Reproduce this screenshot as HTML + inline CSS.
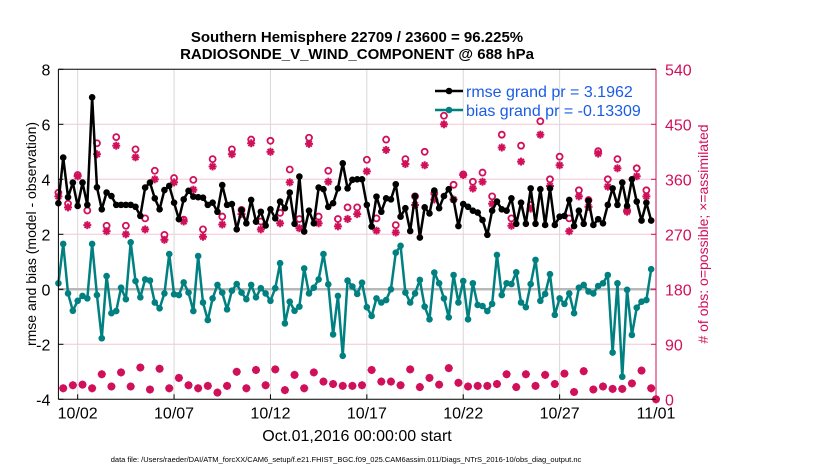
<!DOCTYPE html>
<html><head><meta charset="utf-8"><style>
body{margin:0;background:#fff}
svg{display:block;font-family:"Liberation Sans",Arial,sans-serif}
</style></head><body>
<svg id="chart" width="830" height="470" viewBox="0 0 830 470">
<text x="357" y="42" text-anchor="middle" font-size="15" font-weight="bold">Southern Hemisphere 22709 / 23600 = 96.225%</text>
<text x="357" y="59" text-anchor="middle" font-size="15" font-weight="bold">RADIOSONDE_V_WIND_COMPONENT @ 688 hPa</text>
<g id="grid"></g>
<g id="marks"></g>
<g id="axes"></g>
<text transform="translate(36,234) rotate(-90)" text-anchor="middle" font-size="14">rmse and bias (model - observation)</text>
<text transform="translate(708,234) rotate(-90)" text-anchor="middle" font-size="14" fill="#d0105a"># of obs: o=possible; ×=assimilated</text>
<text x="357" y="441" text-anchor="middle" font-size="16">Oct.01,2016 00:00:00 start</text>
<text x="346" y="462" text-anchor="middle" font-size="7.5">data file: /Users/raeder/DAI/ATM_forcXX/CAM6_setup/f.e21.FHIST_BGC.f09_025.CAM6assim.011/Diags_NTrS_2016-10/obs_diag_output.nc</text>
<g>
<line x1="435" y1="91" x2="463" y2="91" stroke="#000" stroke-width="2.5"/>
<circle cx="449" cy="91" r="3.3" fill="#000"/>
<text x="466" y="97" font-size="16" fill="#1a5ce6">rmse grand pr = 3.1962</text>
<line x1="435" y1="110" x2="463" y2="110" stroke="#008080" stroke-width="2.5"/>
<circle cx="449" cy="110" r="3.3" fill="#008080"/>
<text x="466" y="116" font-size="16" fill="#1a5ce6">bias grand pr = -0.13309</text>
</g>
</svg>
<script>
const rmse=[3.13,4.79,3.35,3.88,3.03,3.88,3.07,6.98,3.71,2.91,3.52,3.39,3.07,3.07,3.07,3.07,3.0,2.67,3.70,3.88,3.31,2.91,3.61,3.76,3.15,2.55,3.27,3.58,3.37,3.35,3.33,3.07,3.15,2.82,3.79,3.07,3.10,2.18,2.88,2.40,3.25,2.46,2.82,2.32,2.91,2.58,3.19,2.95,3.52,2.38,4.10,2.10,2.86,2.40,3.70,3.64,3.0,3.13,3.67,4.58,3.67,
3.98,4.0,4.0,3.07,2.28,3.37,2.82,3.31,3.27,3.82,2.64,2.95,2.12,3.39,1.88,2.98,2.76,3.59,2.95,3.39,3.64,3.25,2.30,3.10,3.0,2.86,2.79,2.52,1.98,2.86,3.19,2.91,2.86,3.31,2.38,3.15,2.38,3.67,2.38,3.64,2.34,3.67,2.34,2.64,2.67,3.25,2.30,2.86,2.38,3.22,2.34,2.55,2.40,3.07,3.67,3.07,3.88,3.03,4.0,3.19,2.50,3.15,2.50];
const bias=[0.22,1.65,-0.15,-0.78,-0.42,-0.24,-0.33,1.65,-0.21,-1.78,0.48,-0.87,-0.79,0.06,-0.36,1.71,0.30,-0.29,0.36,0.32,-0.48,-0.69,-0.15,1.28,-0.18,-0.21,0.25,-0.12,-0.79,1.21,-0.48,-1.12,-0.33,0.16,-0.12,-0.73,-0.05,0.19,-0.12,-0.36,0.16,-0.29,0.04,-0.15,-0.42,0.04,0.95,-1.24,-0.45,-0.78,-0.63,0.76,-0.15,0.06,0.36,1.28,0.18,-1.64,-0.24,-2.42,0.32,
0.1,-0.17,0.24,-0.65,-0.97,-0.33,-0.48,-0.39,0,1.33,1.58,-0.12,-0.48,-0.15,0.34,-0.63,-1.09,0.61,0.22,-0.33,-1.02,0.52,-0.48,0.30,-1.09,0.22,-0.57,-0.61,-0.79,-0.53,1.25,-0.21,0.22,0.19,0.62,-0.48,-0.65,0.19,1.07,-0.42,-0.17,0.55,-0.93,-0.33,-0.53,-0.15,-0.87,0.06,0.16,-0.08,-0.15,0.12,0.22,0.52,-2.30,0.22,-3.18,-0.02,-1.66,-0.67,-0.45,-0.39,0.73];
// 00Z/12Z observation counts (even steps)
const possHigh=[338,320,367,309,419,284,429,284,409,296,374,269,362,294,359,278,393,299,409,310,425,291,423,305,376,295,428,299,374,295,314,
314,392,296,425,285,393,332,405,337,464,351,368,356,371,332,433,296,415,318,455,360,397,296,342,326,406,360,393,309,378,342];
const usedHigh=[332,314,365,285,401,275,415,270,396,278,360,261,355,291,343,266,381,286,401,303,419,278,405,288,355,280,418,288,356,283,295,
303,373,276,408,273,385,318,383,327,450,327,367,345,356,320,412,284,389,312,433,349,383,275,332,315,402,348,378,307,365,332];
// 06Z/18Z observation counts (odd steps)
const usedLow=[18,23,24,18,41,21,44,21,52,16,50,18,35,23,18,22,11,22,45,18,48,23,49,15,40,18,44,29,25,22,
22,23,48,29,29,23,49,20,35,24,51,27,21,22,22,25,41,20,41,22,40,25,42,12,46,16,21,17,17,26,47,18];
const xTicks=["10/02","10/07","10/12","10/17","10/22","10/27","11/01"];
const xTickDays=[1,6,11,16,21,26,31];
const yTicks=[-4,-2,0,2,4,6,8];
const rTicks=[0,90,180,270,360,450,540];

const NS="http://www.w3.org/2000/svg";
const L=58.4,R=656,T=69.3,B=399.3,DAYPX=(R-L)/31;
const xs=i=>L+i*DAYPX/4;
const xd=d=>L+d*DAYPX;
const yl=v=>B-(v+4)/12*(B-T);
const yr=v=>B-v/540*(B-T);
const PINK="#d0105a";
function mk(tag,attrs,parent){const e=document.createElementNS(NS,tag);for(const k in attrs)e.setAttribute(k,attrs[k]);parent.appendChild(e);return e;}
const grid=document.getElementById('grid'),marks=document.getElementById('marks'),axes=document.getElementById('axes');

yTicks.forEach((v,i)=>{
  if(v!==-4&&v!==8&&v!==0){const g=mk('line',{x1:L,x2:R,y1:yl(v),y2:yl(v),stroke:'#f4c6d6','stroke-width':1},grid);
  
  }
  const t=mk('text',{x:L-8,y:yl(v)+6,'text-anchor':'end','font-size':16},axes);t.textContent=v;
  
  
  mk('line',{x1:L,x2:L+5,y1:yl(v),y2:yl(v),stroke:'#000'},axes);
});
rTicks.forEach(v=>{
  const t=mk('text',{x:R+9,y:yr(v)+6,'font-size':16,fill:PINK},axes);t.textContent=v;
  
  
  mk('line',{x1:R-5,x2:R,y1:yr(v),y2:yr(v),stroke:PINK},axes);
});
xTicks.forEach((lab,i)=>{
  const x=xd(xTickDays[i]);
  const g=mk('line',{x1:x,x2:x,y1:T,y2:B,stroke:'#d8d8d8','stroke-width':1},grid);
  
  
  mk('line',{x1:x,x2:x,y1:B,y2:B-5,stroke:'#000'},axes);
  const t=mk('text',{x:x,y:B+19,'text-anchor':'middle','font-size':16},axes);t.textContent=lab;
  
  
});
const z=mk('line',{x1:L,x2:R,y1:yl(0),y2:yl(0),stroke:'#b8b8b8','stroke-width':2.5},grid);


mk('line',{x1:L,x2:R,y1:T,y2:T,stroke:'#000'},axes);
mk('line',{x1:L,x2:R,y1:B,y2:B,stroke:'#000'},axes);
mk('line',{x1:L,x2:L,y1:T,y2:B,stroke:'#000'},axes);
mk('line',{x1:R,x2:R,y1:T,y2:B,stroke:PINK},axes);

function star(x,y){
  const g=mk('g',{stroke:PINK,'stroke-width':2},marks);
  
  
  const s=4;
  mk('line',{x1:x-s,x2:x+s,y1:y,y2:y},g);mk('line',{x1:x,x2:x,y1:y-s,y2:y+s},g);
  mk('line',{x1:x-s*.7,x2:x+s*.7,y1:y-s*.7,y2:y+s*.7},g);mk('line',{x1:x-s*.7,x2:x+s*.7,y1:y+s*.7,y2:y-s*.7},g);
}
function ring(x,y,fill){
  const c=mk('circle',{cx:x,cy:y,r:3,fill:fill||'#fff',stroke:PINK,'stroke-width':1.8},marks);
  
  
}
possHigh.forEach((v,k)=>{const i=2*k;ring(xs(i),yr(v));star(xs(i),yr(usedHigh[k]));});
usedLow.forEach((v,k)=>{const i=2*k+1;ring(xs(i),yr(v),PINK);star(xs(i),yr(v));});
ring(xs(124),yr(0),PINK);star(xs(124),yr(0));

function series(arr,color,name){
  const p=mk('polyline',{points:arr.map((v,i)=>xs(i)+','+yl(v)).join(' '),fill:'none',stroke:color,'stroke-width':2.5,'stroke-linejoin':'round'},marks);
  
  
  arr.forEach((v,i)=>{
    const c=mk('circle',{cx:xs(i),cy:yl(v),r:3.3,fill:color},marks);
    
    
  });
}
series(bias,'#008080','bias');
series(rmse,'#000','rmse');
</script>
</body></html>
